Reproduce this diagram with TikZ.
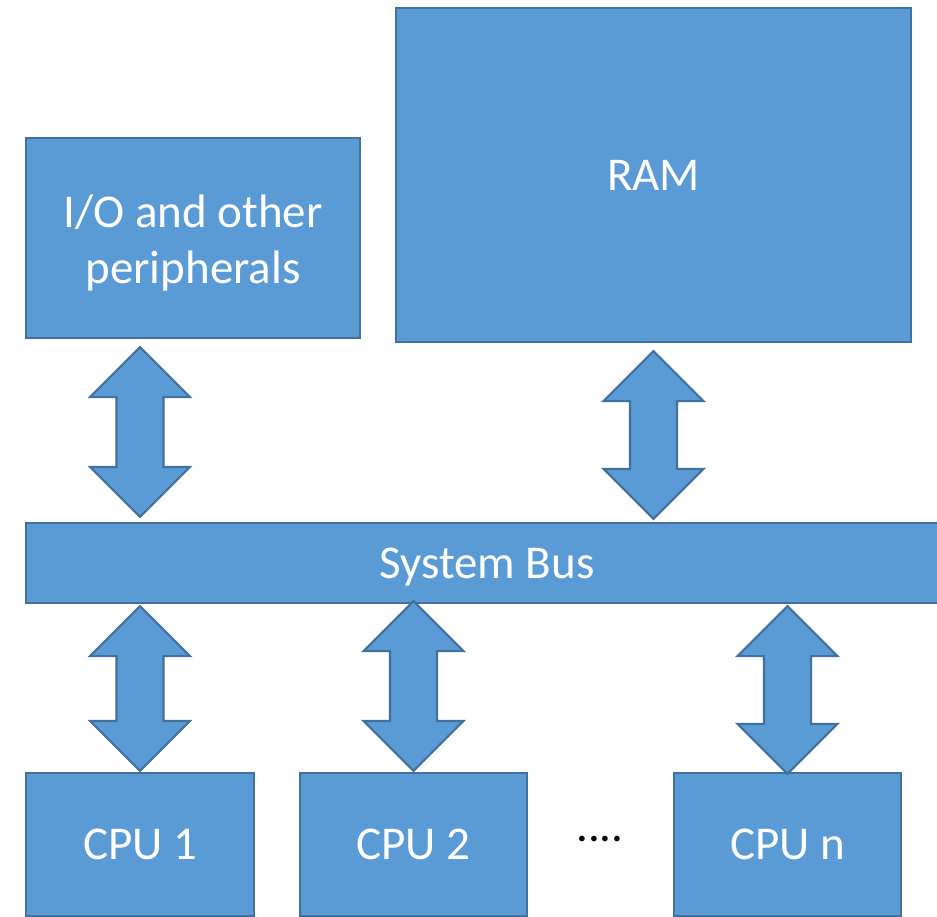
\documentclass[tikz,border=0pt]{standalone}
\usepackage{fontspec}
\setmainfont{Carlito}
\usetikzlibrary{calc}

\definecolor{boxfill}{HTML}{5B9BD5}
\definecolor{boxline}{HTML}{41719C}

\tikzset{>=latex}

% double block arrow between two points on one vertical line
\newcommand{\dblarrow}[2]{%
	\draw[bus_arrow] let \p1=(#1), \p2=(#2) in
		(\x1,\y1) -- (\x1+50pt,\y1-50pt) -- (\x1+23.5pt,\y1-50pt)
		-- (\x1+23.5pt,\y2+50pt) -- (\x1+50pt,\y2+50pt) -- (\x1,\y2)
		-- (\x1-50pt,\y2+50pt) -- (\x1-23.5pt,\y2+50pt)
		-- (\x1-23.5pt,\y1-50pt) -- (\x1-50pt,\y1-50pt) -- cycle;}

\begin{document}
\begin{tikzpicture}[x=1pt, y=-1pt]

	\tikzstyle{unit_box} = [rectangle, draw=boxline, fill=boxfill, line width=2.2pt, inner sep=0pt, text=white, font=\fontsize{47}{56}\selectfont, align=center]
	\tikzstyle{bus_arrow} = [draw=boxline, fill=boxfill, line width=2.2pt, line join=miter]

	\useasboundingbox (0,0) rectangle (937,917);

%------------------------------------------------------------
	\node[unit_box, minimum width=334pt, minimum height=200pt] (io) at (193,238) {\rule{0pt}{43pt}I/O and other\\peripherals};
	\node[unit_box, minimum width=515pt, minimum height=334pt] (ram) at (653.5,175) {RAM};

%------------------------------------------------------------
	\node[unit_box, minimum width=922pt, minimum height=80pt, text depth=0pt] (bus) at (487,563) {System Bus};

%------------------------------------------------------------
	\node[unit_box, minimum width=228pt, minimum height=143pt] (cpu1) at (140,844.5) {CPU 1};
	\node[unit_box, minimum width=227pt, minimum height=143pt] (cpu2) at (413.5,844.5) {CPU 2};
	\node[unit_box, minimum width=227pt, minimum height=143pt] (cpun) at (787.5,844.5) {CPU n};

	\node[font=\fontsize{47}{56}\selectfont, anchor=base] (dots) at (600,841) {....};

%------------------------------------------------------------
	\dblarrow{$(io.south -| cpu1)+(0,8)$}{$(bus.north -| cpu1)+(0,-5)$}
	\dblarrow{$(ram.south)+(0,8)$}{$(bus.north -| ram)+(0,-3)$}

	\dblarrow{$(bus.south -| cpu1)+(0,2)$}{$(cpu1.north)+(0,-1)$}
	\dblarrow{$(bus.south -| cpu2)+(0,-3)$}{$(cpu2.north)+(0,-1)$}
	\dblarrow{$(bus.south -| cpun)+(0,2)$}{$(cpun.north)+(0,2)$}

\end{tikzpicture}
\end{document}
